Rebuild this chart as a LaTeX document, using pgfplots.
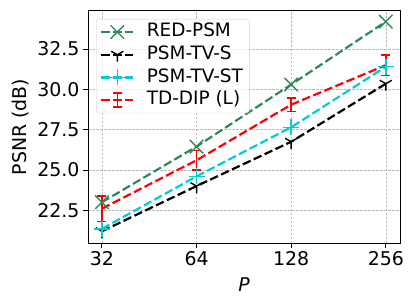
\documentclass[border=0pt]{standalone}
\usepackage{fontspec}
\setmainfont{DejaVu Sans}
\usepackage{pgfplots}
\pgfplotsset{compat=1.18}
\definecolor{sgreen}{RGB}{46,139,87}
\definecolor{dturq}{RGB}{0,206,209}
\definecolor{gridc}{RGB}{190,190,190}
\pgfdeclareplotmark{tridown}{%
  \pgfpathmoveto{\pgfpointorigin}\pgfpathlineto{\pgfqpoint{0pt}{-\pgfplotmarksize}}%
  \pgfpathmoveto{\pgfpointorigin}\pgfpathlineto{\pgfpointpolar{150}{\pgfplotmarksize}}%
  \pgfpathmoveto{\pgfpointorigin}\pgfpathlineto{\pgfpointpolar{30}{\pgfplotmarksize}}%
  \pgfusepathqstroke}
\tikzset{mydash/.style={dash pattern=on 8.5bp off 3.5bp}}
\begin{document}
\begin{tikzpicture}
\begin{axis}[
  scale only axis, width=312bp, height=232bp,
  xmode=log, log basis x=2,
  xmin=28.9, xmax=284, ymin=20.47, ymax=34.86,
  xtick={32,64,128,256}, xticklabels={32,64,128,256},
  ytick={22.5,25,27.5,30,32.5},
  yticklabel={\pgfmathprintnumber[fixed,fixed zerofill,precision=1,assume math mode=true]{\tick}},
  ticklabel style={font=\fontsize{19}{21}\selectfont},
  xtick pos=bottom, ytick pos=left, tick align=outside,
  major tick length=5bp,
  tick style={black, line width=0.9bp},
  axis line style={black, line width=1bp},
  grid=major,
  grid style={gridc, line width=0.6bp, dash pattern=on 2.5bp off 1.5bp},
  xlabel={\textit{P}}, ylabel={PSNR (dB)},
  label style={font=\fontsize{19}{21}\selectfont},
  xlabel style={at={(rel axis cs:0.5,0)}, anchor=center, yshift=-42bp},
  ylabel style={at={(rel axis cs:0,0.5)}, anchor=center, yshift=67bp},
  legend cell align=left,
  legend style={at={(0,1)}, anchor=north west, xshift=8bp, yshift=-8bp,
    draw=black!20, rounded corners=3bp, fill=white, fill opacity=0.8, text opacity=1,
    font=\fontsize{18.5}{21}\selectfont, inner xsep=4bp, inner ysep=1.5bp,
    nodes={inner sep=2.45bp, text height=13.5bp, text depth=4.3bp},
    /tikz/every odd column/.style={column sep=10bp}},
  legend image code/.code={\draw[mark repeat=2,mark phase=2,#1] plot coordinates {(0bp,0bp)(16bp,0bp)(32bp,0bp)};},
]
\coordinate (SW) at (rel axis cs:0,0);
\coordinate (NE) at (rel axis cs:1,1);
\addplot[sgreen, line width=2.2bp, mydash, mark=x, mark size=9.5bp, mark options={solid, line width=1.4bp}]
  coordinates {(32,23.0) (64,26.45) (128,30.3) (256,34.2)};
\addlegendentry{RED-PSM}
\addplot[black, line width=2.2bp, mydash, mark=tridown, mark size=7bp, mark options={solid, line width=1.4bp}]
  coordinates {(32,21.2) (64,24.0) (128,26.75) (256,30.35)};
\addlegendentry{PSM-TV-S}
\addplot[dturq, line width=2.2bp, mydash, mark=+, mark size=8bp, mark options={solid, line width=1.4bp}]
  coordinates {(32,21.35) (64,24.6) (128,27.65) (256,31.4)};
\addlegendentry{PSM-TV-ST}
\addplot[red, line width=2.2bp, mydash, mark=none,
  legend image code/.code={%
    \draw[red, line width=2.2bp, mydash] (0bp,0bp) -- (32bp,0bp);
    \draw[red, line width=1.6bp, solid] (16bp,-7bp) -- (16bp,7bp) (11.5bp,-7bp) -- (20.5bp,-7bp) (11.5bp,7bp) -- (20.5bp,7bp);},
  error bars/.cd, y dir=both, y explicit,
  error bar style={solid, line width=1.6bp},
  error mark options={rotate=90, mark size=4.5bp, solid, line width=1.6bp},
  ]
  coordinates {(32,22.6) +- (0,0.8) (64,25.6) +- (0,0.6) (128,29.05) +- (0,0.43) (256,31.5) +- (0,0.63)};
\addlegendentry{TD-DIP (L)}
\end{axis}
\pgfresetboundingbox
\path[use as bounding box] ([xshift=-88bp,yshift=-65bp]SW) rectangle ([xshift=15bp,yshift=11bp]NE);
\end{tikzpicture}
\end{document}
